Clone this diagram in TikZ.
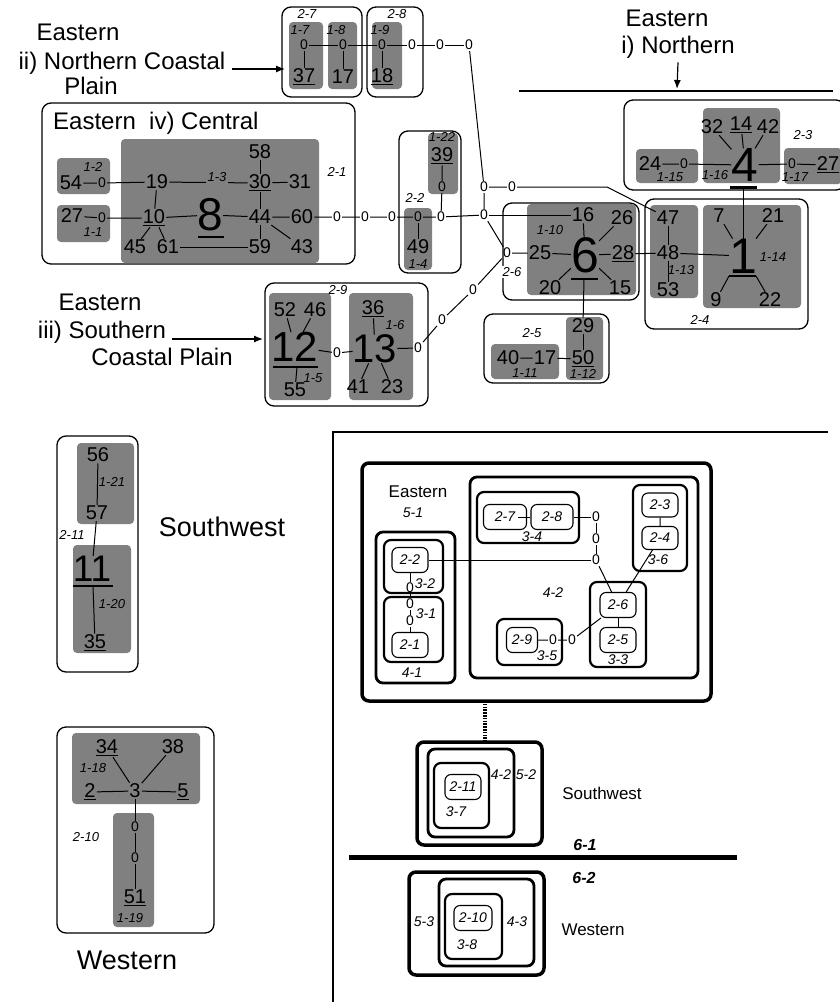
\documentclass[tikz,border=0pt]{standalone}
\usepackage{fontspec}
\setmainfont{Liberation Sans}
\usetikzlibrary{arrows.meta}
\definecolor{hapgrey}{RGB}{128,128,128}

\begin{document}
\begin{tikzpicture}[x=1pt,y=-1pt,
  hap/.style={font=\fontsize{20}{20}\selectfont,inner sep=1pt},
  zero/.style={font=\fontsize{14}{14}\selectfont,inner sep=1pt},
  bighap/.style={font=\fontsize{#1}{#1}\selectfont,inner sep=0pt},
  lab/.style={font=\fontsize{13}{13}\selectfont\itshape,inner sep=0pt},
  region/.style={font=\fontsize{24}{27}\selectfont,inner sep=0pt},
  clade/.style={fill=hapgrey,rounded corners=4pt},
  stepbox/.style={draw,line width=1.3pt,rounded corners=9pt},
  link/.style={line width=1pt},
  bar/.style={line width=2pt},
  nestlab/.style={font=\fontsize{14}{14}\selectfont\itshape,inner sep=0pt},
  nestbox/.style={draw,line width=#1,rounded corners=7pt},
  cladebox/.style={draw,line width=1.1pt,rounded corners=6pt,
    font=\fontsize{14}{14}\selectfont\itshape,minimum width=36pt,minimum height=25pt,inner sep=0pt},
  regionb/.style={font=\fontsize{17}{17}\selectfont,inner sep=0pt},
  arrow/.style={-{Latex[length=9pt,width=7pt]},line width=1.2pt}]
\useasboundingbox (0,0) rectangle (840,1002);

% ---------- top part: haplotype networks ----------
% boxes
\draw[stepbox] (282,7) rectangle (362,97);
\draw[stepbox] (367,7) rectangle (423,97);
\draw[stepbox] (42,103) rectangle (355,264);
\draw[stepbox] (399,131) rectangle (461,273);
\draw[stepbox] (265,283) rectangle (428,406);
\draw[stepbox] (503,203) rectangle (639,300);
\draw[stepbox] (624,100) rectangle (845,190);
\draw[stepbox] (645,199) rectangle (808,329);
\draw[stepbox] (484,314) rectangle (609,383);
\draw[stepbox] (57,436) rectangle (138,672);
\draw[stepbox] (57,727) rectangle (214,933);
% grey clades
\fill[clade] (289,22) rectangle (323,89);
\fill[clade] (328,22) rectangle (357,89);
\fill[clade] (372,22) rectangle (402,89);
\fill[clade] (57,158) rectangle (110,194);
\fill[clade] (57,205) rectangle (110,242);
\fill[clade] (121,139) rectangle (319,263);
\fill[clade] (428,133) rectangle (458,194);
\fill[clade] (404,208) rectangle (432,270);
\fill[clade] (269,293) rectangle (331,400);
\fill[clade] (349,293) rectangle (413,400);
\fill[clade] (527,204) rectangle (636,295);
\fill[clade] (636,149) rectangle (698,183);
\fill[clade] (703,108) rectangle (780,183);
\fill[clade] (784,148) rectangle (842,184);
\fill[clade] (650,205) rectangle (698,298);
\fill[clade] (703,205) rectangle (801,308);
\fill[clade] (491,344) rectangle (559,379);
\fill[clade] (566,317) rectangle (603,380);
\fill[clade] (77,443) rectangle (134,524);
\fill[clade] (73,545) rectangle (131,653);
\fill[clade] (72,733) rectangle (200,804);
\fill[clade] (113,813) rectangle (154,927);

% region titles
\node[region] (nct1) at (78,32) {Eastern};
\node[region] (nct2) at (122,63) {ii) Northern Coastal};
\node[region] (nct3) at (91,86) {Plain};
\coordinate (nctend) at (285,69);
\draw[arrow] ([xshift=6pt,yshift=-6pt]nct2.east) -- (nctend);
\node[region,anchor=west] (cen) at (53,123) {Eastern\ \ iv) Central};
\node[region] (sct1) at (100,302) {Eastern};
\node[region] (sct2) at (102,332) {iii) Southern};
\node[region] (sct3) at (162,357) {Coastal Plain};
\coordinate (sctend) at (263,339);
\draw[arrow] ([xshift=6pt,yshift=-7pt]sct2.east) -- (sctend);
\node[region] (nor1) at (667,18) {Eastern};
\node[region] (nor2) at (678,47) {i) Northern};
\coordinate (norend) at (677,89);
\draw[arrow] ([yshift=-4pt]nor2.south) -- (norend);
\coordinate (norl) at (519,91);
\coordinate (norr) at (833,91);
\draw[line width=1.2pt] (norl) -- (norr);
\node[region,font=\fontsize{27}{27}\selectfont] (swt) at (222,527) {Southwest};
\node[region,font=\fontsize{27}{27}\selectfont] (wet) at (127,960) {Western};

% ii) northern coastal plain
\node[zero] (a1) at (304,45) {0};
\node[zero] (a2) at (343,45) {0};
\node[zero] (a3) at (382,45) {0};
\node[zero] (a4) at (412,45) {0};
\node[zero] (a5) at (440,45) {0};
\node[zero] (a6) at (469,45) {0};
\node[hap] (h37) at (304,77) {\underline{37}};
\node[hap] (h17) at (343,77) {17};
\node[hap] (h18) at (382,77) {\underline{18}};
\draw[link] (a1) -- (a2) -- (a3) -- (a4) -- (a5) -- (a6);
\draw[link] (a1) -- (h37);
\draw[link] (a2) -- (h17);
\draw[link] (a3) -- (h18);
\node[lab] at (307,14) {2-7};
\node[lab] at (397,14) {2-8};
\node[lab] at (300,30) {1-7};
\node[lab] at (336,30) {1-8};
\node[lab] at (380,30) {1-9};

% iv) central
\node[hap] (h54) at (71,183) {54};
\node[zero] (c1) at (102,183) {0};
\node[hap] (h27w) at (72,216) {27};
\node[zero] (c2) at (102,218) {0};
\node[hap] (h19) at (157,182) {19};
\node[hap] (h30) at (260,183) {\underline{30}};
\node[hap] (h58) at (260,152) {58};
\node[hap] (h31) at (300,182) {31};
\node[hap] (h10) at (154,218) {\underline{10}};
\node[bighap=46] (h8) at (210,215) {8};
\node[hap] (h44) at (260,217) {44};
\node[hap] (h60) at (302,217) {60};
\node[hap] (h45) at (135,247) {45};
\node[hap] (h61) at (168,247) {61};
\node[hap] (h59) at (260,247) {59};
\node[hap] (h43) at (302,247) {43};
\coordinate (u8) at (211,237);
\draw[bar] ([xshift=-13pt]u8) -- ([xshift=13pt]u8);
\draw[link] (h54) -- (c1) -- (h19);
\draw[link] (h27w) -- (c2) -- (h10);
\draw[link] (h19) -- (h30) -- (h31);
\draw[link] (h58) -- (h30) -- (h44);
\draw[link] (h19) -- (h10) -- (h8) -- (h44) -- (h60);
\draw[link] (h44) -- (h59);
\draw[link] (h44) -- (h43);
\draw[link] ([xshift=-4pt]h10.south) -- (h45);
\draw[link] ([xshift=5pt]h10.south) -- (h61);
\draw[link] (h61) -- (h59);
\node[lab] at (337,172) {2-1};
\node[lab] at (93,167) {1-2};
\node[lab] at (93,232) {1-1};
\node[lab,fill=hapgrey,inner sep=2pt] at (217,177) {1-3};

% i) northern: 2-3
\node[hap] (h24) at (650,164) {24};
\node[zero] (d1) at (684,164) {0};
\node[hap] (h32) at (712,127) {32};
\node[hap] (h14) at (741,125) {\underline{14}};
\node[hap] (h42) at (768,127) {42};
\node[bighap=48] (h4) at (745,165) {4};
\node[zero] (d2) at (792,164) {0};
\node[hap] (h27) at (828,165) {\underline{27}};
\coordinate (u4) at (743,187);
\draw[line width=3pt] ([xshift=-13pt]u4) -- ([xshift=14pt]u4);
\draw[link] (h24) -- (d1) -- (h4) -- (d2) -- (h27);
\draw[link] (h32) -- (h4);
\draw[link] (h14) -- (h4);
\draw[link] (h42) -- (h4);
\node[lab] at (803,135) {2-3};
\node[lab] at (670,177) {1-15};
\node[lab] at (715,175) {1-16};
\node[lab] at (795,177) {1-17};

% i) northern: 2-4
\node[hap] (h47) at (668,218) {47};
\node[hap] (h48) at (668,253) {48};
\node[hap] (h53) at (668,290) {53};
\node[hap] (h7) at (719,216) {7};
\node[hap] (h21) at (773,216) {21};
\node[bighap=50] (h1) at (743,256) {1};
\node[hap] (h9) at (716,300) {9};
\node[hap] (h22) at (770,300) {22};
\coordinate (u1) at (743,276);
\draw[bar] ([xshift=-14pt]u1) -- ([xshift=13pt]u1);
\draw[link] (u4) -- (h1);
\draw[link] (h47) -- (h48) -- (h53);
\draw[link] (h48) -- (h1);
\draw[link] (h7) -- (h1);
\draw[link] (h21) -- (h1);
\draw[link] ([xshift=-14pt]u1) -- (h9);
\draw[link] ([xshift=13pt]u1) -- (h22);
\node[lab] at (681,270) {1-13};
\node[lab] at (773,257) {1-14};
\node[lab] at (700,320) {2-4};

% 2-5
\node[hap] (h40) at (508,358) {40};
\node[hap] (h17b) at (545,358) {17};
\node[hap] (h29) at (583,326) {29};
\node[hap] (h50) at (583,359) {\underline{50}};
\draw[link] (h40) -- (h17b) -- (h50);
\draw[link] (h29) -- (h50);
\node[lab] at (532,333) {2-5};
\node[lab] at (525,373) {1-11};
\node[lab] at (583,374) {1-12};

% 2-2 and the path to the east
\node[zero] (c3) at (337,217) {0};
\node[zero] (c4) at (365,217) {0};
\node[zero] (c5) at (392,217) {0};
\node[zero] (c6) at (418,217) {0};
\node[zero] (c7) at (441,217) {0};
\node[zero] (c8) at (484,215) {0};
\node[zero] (c9) at (442,187) {0};
\node[zero] (c10) at (484,187) {0};
\node[zero] (c11) at (512,187) {0};
\node[zero] (c12) at (507,253) {0};
\node[hap] (h39) at (442,156) {\underline{39}};
\node[hap] (h49) at (418,247) {49};
\coordinate (bend47) at (607,187);
\draw[link] (h60) -- (c3) -- (c4) -- (c5) -- (c6) -- (c7) -- (c8);
\draw[link] (c6) -- (h49);
\draw[link] (h39) -- (c9) -- (c7);
\draw[link] (a6) -- (c10) -- (c8);
\draw[link] (c10) -- (c11) -- (bend47) -- (h47);
\draw[link] (c8) -- (c12);
\node[lab] at (415,198) {2-2};
\node[lab] at (442,137) {1-22};
\node[lab] at (418,264) {1-4};

% iii) southern coastal plain
\node[hap] (h52) at (285,310) {52};
\node[hap] (h46) at (315,310) {46};
\node[bighap=42] (h12) at (295,347) {12};
\node[hap] (h55) at (295,390) {55};
\node[zero] (s0) at (337,353) {0};
\node[bighap=40] (h13) at (375,349) {13};
\node[hap] (h36) at (373,309) {\underline{36}};
\node[hap] (h41) at (358,387) {41};
\node[hap] (h23) at (392,387) {23};
\node[zero] (s1) at (418,348) {0};
\node[zero] (s2) at (442,320) {0};
\node[zero] (s3) at (473,290) {0};
\coordinate (u12) at (297,367);
\draw[line width=1.3pt] ([xshift=-24pt]u12) -- ([xshift=21pt]u12);
\draw[link] (h52) -- (h12);
\draw[link] (h46) -- (h12);
\draw[link] (u12) -- (h55);
\draw[link] (h12) -- (s0) -- (h13) -- (s1) -- (s2) -- (s3) -- (c12);
\draw[link] (h36) -- (h13);
\draw[link] (h41) -- (h13);
\draw[link] (h23) -- (h13);
\node[lab] at (338,290) {2-9};
\node[lab] at (313,378) {1-5};
\node[lab] at (395,325) {1-6};

% 2-6 network round 6
\node[hap] (h16) at (583,215) {16};
\node[hap] (h26) at (622,218) {26};
\node[hap] (h25) at (540,253) {25};
\node[bighap=50] (h6) at (585,255) {6};
\node[hap] (h28) at (623,254) {\underline{28}};
\node[hap] (h20) at (550,288) {20};
\node[hap] (h15) at (620,288) {15};
\coordinate (u6) at (584,279);
\draw[bar] ([xshift=-13pt]u6) -- ([xshift=14pt]u6);
\draw[link] (c8) -- (h16);
\draw[link] (c12) -- (h25) -- (h6) -- (h28) -- (h48);
\draw[link] (h16) -- (h6);
\draw[link] (h26) -- (h6);
\draw[link] (h20) -- (h6);
\draw[link] (h15) -- (h6);
\draw[link] (u6) -- (h29);
\node[lab] at (550,230) {1-10};
\node[lab,fill=white,inner sep=1pt] at (512,272) {2-6};

% southwest
\node[hap] (h56) at (98,455) {56};
\node[hap] (h57) at (97,513) {57};
\node[bighap=37] (h11) at (92,569) {11};
\node[hap] (h35) at (95,643) {\underline{35}};
\coordinate (u11) at (93,586);
\draw[line width=1.5pt] ([xshift=-20pt]u11) -- ([xshift=20pt]u11);
\draw[link] (h56) -- (h57) -- (h11);
\draw[link] (u11) -- (h35);
\node[lab] at (112,482) {1-21};
\node[lab] at (72,535) {2-11};
\node[lab] at (112,604) {1-20};

% western
\node[hap] (h34) at (107,748) {\underline{34}};
\node[hap] (h38) at (173,747) {38};
\node[hap] (h2) at (90,792) {\underline{2}};
\node[hap] (h3) at (135,791) {3};
\node[hap] (h5) at (183,792) {\underline{5}};
\node[zero] (e1) at (135,827) {0};
\node[zero] (e2) at (135,858) {0};
\node[hap] (h51) at (135,898) {\underline{51}};
\draw[link] (h34) -- (h3);
\draw[link] (h38) -- (h3);
\draw[link] (h2) -- (h3) -- (h5);
\draw[link] (h3) -- (e1) -- (e2) -- (h51);
\node[lab] at (93,768) {1-18};
\node[lab] at (86,837) {2-10};
\node[lab] at (130,918) {1-19};

% ---------- bottom right: nested clades ----------
\draw[line width=2pt] (333,1004) -- (333,432) -- (828,432);
\draw[nestbox=3.5pt] (362,463) rectangle (711,701);
\draw[nestbox=2.8pt] (376,532) rectangle (455,683);
\draw[nestbox=2.2pt] (384,540) rectangle (443,593);
\draw[nestbox=2.2pt] (384,597) rectangle (443,662);
\draw[nestbox=2.8pt] (470,477) rectangle (698,678);
\draw[nestbox=2.2pt] (477,492) rectangle (579,543);
\draw[nestbox=2.2pt] (633,485) rectangle (687,571);
\draw[nestbox=2.2pt] (590,582) rectangle (646,667);
\draw[nestbox=2.2pt] (497,619) rectangle (562,665);
\draw[nestbox=3.5pt] (417,742) rectangle (542,845);
\draw[nestbox=2.8pt] (428,749) rectangle (514,837);
\draw[nestbox=2.2pt] (434,763) rectangle (489,828);
\draw[nestbox=3.5pt] (409,872) rectangle (544,975);
\draw[nestbox=2.8pt] (439,879) rectangle (534,966);
\draw[nestbox=2.2pt] (445,894) rectangle (502,959);

% clade nodes
\node[cladebox,minimum width=43pt] (p27) at (505,517) {2-7};
\node[cladebox,minimum width=42pt] (p28) at (552,517) {2-8};
\node[cladebox] (p22) at (410,560) {2-2};
\node[cladebox] (p21) at (410,645) {2-1};
\node[cladebox,minimum height=24pt] (p23) at (660,505) {2-3};
\node[cladebox,minimum height=23pt] (p24) at (660,538) {2-4};
\node[cladebox] (p26) at (618,605) {2-6};
\node[cladebox] (p25) at (618,640) {2-5};
\node[cladebox,minimum width=31pt] (p29) at (522,640) {2-9};
\node[cladebox] (p211) at (463,787) {2-11};
\node[cladebox,minimum width=38pt] (p210) at (473,918) {2-10};
\node[zero] (z1) at (596,517) {0};
\node[zero] (z2) at (596,539) {0};
\node[zero] (z3) at (596,560) {0};
\node[zero] (y1) at (410,588) {0};
\node[zero] (y2) at (410,604) {0};
\node[zero] (y3) at (410,621) {0};
\node[zero] (w1) at (553,640) {0};
\node[zero] (w2) at (572,640) {0};
\draw[link] ([xshift=-9pt]p27.east) -- (p28);
\draw[link] (p28) -- (z1) -- (z2) -- (z3);
\draw[link] (z3) -- (p22);
\draw[link] (z3) -- (p26);
\draw[link] (p22) -- (y1) -- (y2) -- (y3) -- (p21);
\draw[link] (p23) -- (p24) -- (p26);
\draw[link] (p26) -- (p25);
\draw[link] (p29) -- (w1) -- (w2) -- (p26);

% clade labels
\node[regionb] (eb) at (418,492) {Eastern};
\node[nestlab] at (413,513) {5-1};
\node[nestlab] at (412,673) {4-1};
\node[nestlab] at (425,584) {3-2};
\node[nestlab] at (426,614) {3-1};
\node[nestlab] at (553,593) {4-2};
\node[nestlab] at (532,537) {3-4};
\node[nestlab] at (658,560) {3-6};
\node[nestlab] at (618,660) {3-3};
\node[nestlab] at (547,656) {3-5};
\node[nestlab] at (456,812) {3-7};
\node[nestlab] at (501,775) {4-2};
\node[nestlab] at (526,775) {5-2};
\node[regionb] (swb) at (602,793) {Southwest};
\node[nestlab] at (467,945) {3-8};
\node[nestlab] at (424,922) {5-3};
\node[nestlab] at (517,922) {4-3};
\node[regionb] (web) at (593,930) {Western};

% link between eastern and southwest, and the split
\coordinate (hz1) at (485,701);
\coordinate (hz2) at (485,742);
\draw[line width=4pt,dash pattern=on 1.6pt off 1.2pt] (hz1) -- (hz2);
\coordinate (sep1) at (349,857);
\coordinate (sep2) at (737,857);
\draw[line width=5pt] (sep1) -- (sep2);
\node[nestlab,font=\fontsize{16}{16}\selectfont\bfseries\itshape] at (585,845) {6-1};
\node[nestlab,font=\fontsize{16}{16}\selectfont\bfseries\itshape] at (584,878) {6-2};
\end{tikzpicture}
\end{document}
